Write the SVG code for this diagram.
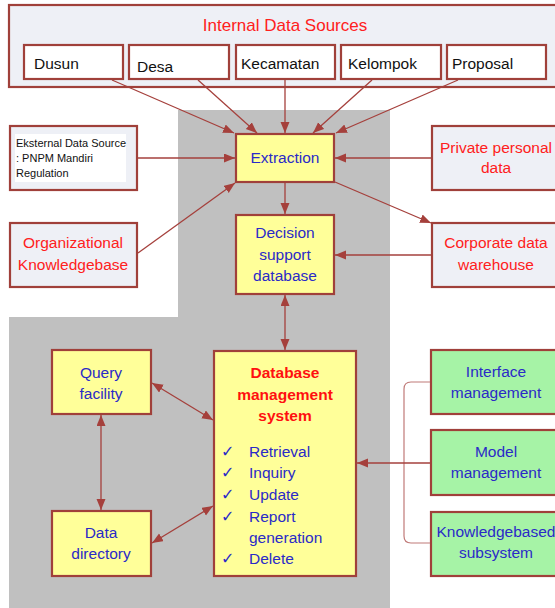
<svg xmlns="http://www.w3.org/2000/svg" width="555" height="608" viewBox="0 0 555 608">
<style>
.box{stroke:#a0403a;stroke-width:2.2}
.lt{fill:#eef0f6}
.wh{fill:#ffffff}
.yl{fill:#ffff99}
.gr{fill:#a6f3a6}
.blk{font-family:"Liberation Sans",Arial,sans-serif;font-size:15.5px;fill:#111}
.sm{font-family:"Liberation Sans",Arial,sans-serif;font-size:11px;fill:#111}
.red{font-family:"Liberation Sans",Arial,sans-serif;font-size:15.5px;fill:#ff2020;text-anchor:middle}
.blu{font-family:"Liberation Sans",Arial,sans-serif;font-size:15.5px;fill:#2a2ac8;text-anchor:middle}
.blul{font-family:"Liberation Sans",Arial,sans-serif;font-size:15.5px;fill:#2a2ac8}
.chk{font-family:"DejaVu Sans",sans-serif;font-size:16px;fill:#2a2ac8}
.bold{font-family:"Liberation Sans",Arial,sans-serif;font-size:15.5px;font-weight:bold;fill:#ff1010;text-anchor:middle}
.ln{stroke:#a5403c;stroke-width:1.3;fill:none}
</style>
<defs>
<marker id="ah" markerUnits="userSpaceOnUse" markerWidth="12" markerHeight="10" refX="11" refY="4.5" orient="auto-start-reverse">
<path d="M0,0 L11,4.5 L0,9 z" fill="#a5403c"/>
</marker>
</defs>

<polygon points="178,110 390,110 390,608 9,608 9,317 178,317" fill="#c0c0c0"/>

<g id="internal">
<rect class="box lt" x="9" y="5" width="560" height="82"/>
<text class="red" x="285" y="31" style="font-size:17px">Internal Data Sources</text>
</g>
<g id="dusun"><rect class="box wh" x="24" y="45" width="99" height="34"/><text class="blk" x="34" y="69">Dusun</text></g>
<g id="desa"><rect class="box wh" x="129" y="45" width="100" height="34"/><text class="blk" x="137" y="72">Desa</text></g>
<g id="kecamatan"><rect class="box wh" x="236" y="45" width="99" height="34"/><text class="blk" x="241" y="69">Kecamatan</text></g>
<g id="kelompok"><rect class="box wh" x="341" y="45" width="100" height="34"/><text class="blk" x="348" y="69">Kelompok</text></g>
<g id="proposal"><rect class="box wh" x="447" y="45" width="99" height="34"/><text class="blk" x="452" y="69">Proposal</text></g>

<g id="eksternal">
<rect class="box lt" x="10" y="126" width="127" height="64"/>
<rect x="15" y="134" width="111" height="48" fill="#ffffff"/>
<text class="sm" x="16" y="147">Eksternal Data Source</text>
<text class="sm" x="16" y="162">: PNPM Mandiri</text>
<text class="sm" x="16" y="177">Regulation</text>
</g>
<g id="orgkb">
<rect class="box lt" x="10" y="223" width="127" height="64"/>
<text class="red" x="73" y="248">Organizational</text>
<text class="red" x="73" y="270">Knowledgebase</text>
</g>
<g id="private">
<rect class="box lt" x="432" y="126" width="140" height="64"/>
<text class="red" x="496" y="153">Private personal</text>
<text class="red" x="496" y="173">data</text>
</g>
<g id="corporate">
<rect class="box lt" x="432" y="223" width="140" height="64"/>
<text class="red" x="496" y="248">Corporate data</text>
<text class="red" x="496" y="270">warehouse</text>
</g>

<g id="extraction">
<rect class="box yl" x="236" y="134" width="98" height="48"/>
<text class="blu" x="285" y="163">Extraction</text>
</g>
<g id="dsdb">
<rect class="box yl" x="236" y="215" width="98" height="79"/>
<text class="blu" x="285" y="238">Decision</text>
<text class="blu" x="285" y="260">support</text>
<text class="blu" x="285" y="281">database</text>
</g>

<g id="query">
<rect class="box yl" x="52" y="350" width="99" height="64"/>
<text class="blu" x="101" y="378">Query</text>
<text class="blu" x="101" y="399">facility</text>
</g>
<g id="datadir">
<rect class="box yl" x="52" y="511" width="99" height="65"/>
<text class="blu" x="101" y="538">Data</text>
<text class="blu" x="101" y="559">directory</text>
</g>
<g id="dbms">
<rect class="box yl" x="214" y="351" width="142" height="225"/>
<text class="bold" x="285" y="378">Database</text>
<text class="bold" x="285" y="400">management</text>
<text class="bold" x="285" y="421">system</text>
<text class="chk" x="221" y="457">✓</text><text class="blul" x="249" y="457">Retrieval</text>
<text class="chk" x="221" y="478">✓</text><text class="blul" x="249" y="478">Inquiry</text>
<text class="chk" x="221" y="500">✓</text><text class="blul" x="249" y="500">Update</text>
<text class="chk" x="221" y="522">✓</text><text class="blul" x="249" y="522">Report</text>
<text class="blul" x="249" y="543">generation</text>
<text class="chk" x="221" y="564">✓</text><text class="blul" x="249" y="564">Delete</text>
</g>

<g id="interface">
<rect class="box gr" x="431" y="350" width="140" height="64"/>
<text class="blu" x="496" y="377">Interface</text>
<text class="blu" x="496" y="398">management</text>
</g>
<g id="model">
<rect class="box gr" x="431" y="430" width="140" height="65"/>
<text class="blu" x="496" y="457">Model</text>
<text class="blu" x="496" y="478">management</text>
</g>
<g id="kbs">
<rect class="box gr" x="431" y="512" width="140" height="64"/>
<text class="blu" x="496" y="537">Knowledgebased</text>
<text class="blu" x="496" y="558">subsystem</text>
</g>

<g id="connectors">
<line class="ln" x1="112" y1="80" x2="234" y2="133" marker-end="url(#ah)"/>
<line class="ln" x1="198" y1="80" x2="257" y2="133" marker-end="url(#ah)"/>
<line class="ln" x1="285" y1="80" x2="285" y2="133" marker-end="url(#ah)"/>
<line class="ln" x1="372" y1="80" x2="313" y2="133" marker-end="url(#ah)"/>
<line class="ln" x1="458" y1="80" x2="336" y2="133" marker-end="url(#ah)"/>
<line class="ln" x1="138" y1="158" x2="235" y2="158" marker-end="url(#ah)"/>
<line class="ln" x1="138" y1="253" x2="235" y2="183" marker-end="url(#ah)"/>
<line class="ln" x1="431" y1="158" x2="335" y2="158" marker-end="url(#ah)"/>
<line class="ln" x1="335" y1="182" x2="431" y2="223" marker-end="url(#ah)"/>
<line class="ln" x1="431" y1="255" x2="335" y2="255" marker-end="url(#ah)"/>
<line class="ln" x1="285" y1="183" x2="285" y2="214" marker-end="url(#ah)"/>
<line class="ln" x1="285" y1="295" x2="285" y2="350" marker-start="url(#ah)" marker-end="url(#ah)"/>
<line class="ln" x1="152" y1="383" x2="213" y2="420" marker-start="url(#ah)" marker-end="url(#ah)"/>
<line class="ln" x1="101" y1="415" x2="101" y2="510" marker-start="url(#ah)" marker-end="url(#ah)"/>
<line class="ln" x1="152" y1="543" x2="213" y2="506" marker-start="url(#ah)" marker-end="url(#ah)"/>
<path d="M430,382 H411 Q404,382 404,389 V536 Q404,543 411,543 H430" stroke="#c07a78" stroke-width="1.2" fill="none"/>
<line class="ln" x1="430" y1="463" x2="357" y2="463" marker-end="url(#ah)"/>
</g>
</svg>
